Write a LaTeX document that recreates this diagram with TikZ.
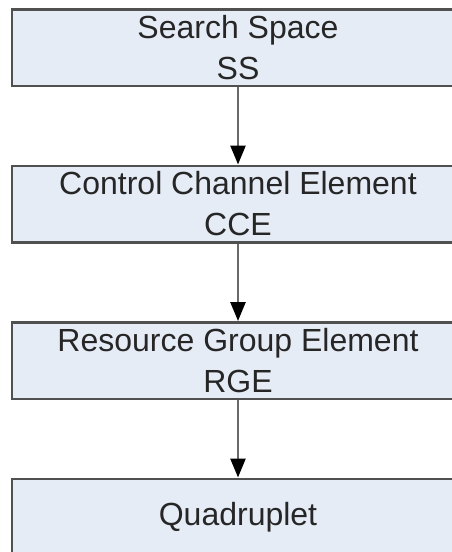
\documentclass[tikz,border=0pt]{standalone}
\usepackage{fontspec}
\setmainfont{Liberation Sans}
\usetikzlibrary{positioning,arrows.meta}
\definecolor{BoxFill}{RGB}{230,236,246}
\definecolor{BoxLine}{RGB}{80,80,80}
\definecolor{LinkGray}{RGB}{105,105,105}
\tikzset{
  layer/.style={rectangle,draw=BoxLine,fill=BoxFill,line width=2.5pt,
    minimum width=452pt,minimum height=76.5pt,inner sep=0pt,align=center,
    font=\fontsize{32}{41}\selectfont,text=black!85},
  link/.style={draw=LinkGray,line width=2.5pt,
    -{Triangle[length=19pt,width=15pt,color=black]}},
}

\begin{document}
\begin{tikzpicture}[node distance=77.5pt]
  \clip (0,0) rectangle (452pt,-552pt);
  \node[layer] (ss) at (238pt,-47.5pt) {Search Space\\SS};
  \node[layer,below=of ss] (cce) {Control Channel Element\\CCE};
  \node[layer,below=of cce] (rge) {Resource Group Element\\RGE};
  \node[layer,below=of rge] (quad) {Quadruplet};
  \foreach \a/\b in {ss/cce,cce/rge,rge/quad}
    \draw[link] (\a) -- (\b);
\end{tikzpicture}
\end{document}
